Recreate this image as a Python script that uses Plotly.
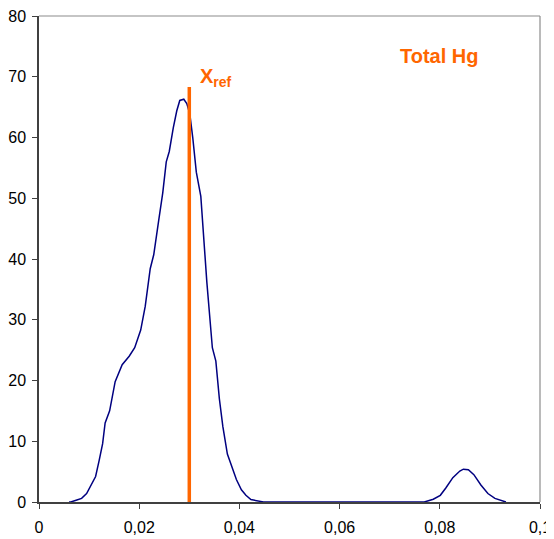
import plotly.graph_objects as go

hg_x = [0.0060, 0.00635, 0.0074, 0.0085, 0.0095, 0.0104, 0.0113, 0.0120, 0.0127, 0.0132,
        0.0141, 0.0152, 0.0166, 0.0180, 0.0191, 0.0203, 0.0212, 0.0222, 0.0229, 0.0239,
        0.0247, 0.0254, 0.0260, 0.0268, 0.0275, 0.0281, 0.0289, 0.0295, 0.0301, 0.0307,
        0.0314, 0.0323, 0.0328, 0.0335, 0.0346, 0.0353, 0.0360, 0.0367, 0.0376, 0.0385,
        0.0394, 0.0404, 0.0413, 0.0423, 0.0438, 0.0448, 0.0600, 0.0769, 0.0787, 0.0801,
        0.0812, 0.0826, 0.0840, 0.0847, 0.0857, 0.0868, 0.0882, 0.0896, 0.0910, 0.0925,
        0.0932]
hg_density = [0.0, 0.0, 0.3, 0.6, 1.4, 2.8, 4.2, 6.8, 9.6, 13.0,
              15.0, 19.8, 22.6, 24.0, 25.4, 28.3, 32.2, 38.4, 40.7, 46.4,
              50.9, 56.0, 57.7, 61.6, 64.4, 66.1, 66.3, 65.6, 63.9, 59.9,
              54.3, 50.3, 44.1, 36.2, 25.4, 23.2, 17.0, 12.4, 7.9, 5.7,
              3.7, 2.0, 1.1, 0.4, 0.1, 0.0, 0.0, 0.0, 0.45, 1.1,
              2.3, 4.0, 5.1, 5.4, 5.3, 4.5, 2.8, 1.4, 0.6, 0.1,
              0.0]

x_ref = 0.03
x_ref_line_y = [0, 68.3]

x_ticks = [0, 0.02, 0.04, 0.06, 0.08, 0.1]
y_ticks = [0, 10, 20, 30, 40, 50, 60, 70, 80]

orange = "#FF6600"
navy = "#000080"
FONT = "Liberation Sans, Arial, sans-serif"

# page body has an 8px margin; figure sized so that the plot area lands at 39..540 x 16..502
W, H = 546, 531
ML, MR, MT, MB = 31, 14, 8, 37

fig = go.Figure()
fig.add_trace(go.Scatter(x=hg_x, y=hg_density, mode="lines",
                         line=dict(color=navy, width=1.5), showlegend=False,
                         hoverinfo="skip"))
fig.add_trace(go.Scatter(x=[x_ref, x_ref], y=x_ref_line_y, mode="lines",
                         line=dict(color=orange, width=3.5), showlegend=False,
                         hoverinfo="skip"))

fig.add_shape(type="line", xref="paper", yref="paper", x0=0, x1=1, y0=1, y1=1,
              line=dict(color="#8c8c8c", width=1.2))
fig.add_shape(type="line", xref="paper", yref="paper", x0=1, x1=1, y0=0, y1=1,
              line=dict(color="#8c8c8c", width=1.2))

fig.add_annotation(x=0.0318, y=69.8, xref="x", yref="y", text="<b>X<sub>ref</sub></b>",
                   showarrow=False, xanchor="left", yanchor="middle",
                   font=dict(family=FONT, size=20, color=orange))
fig.add_annotation(x=0.0800, y=73.4, xref="x", yref="y", text="<b>Total Hg</b>",
                   showarrow=False, xanchor="center", yanchor="middle",
                   font=dict(family=FONT, size=20, color=orange))

fig.update_layout(
    width=W, height=H, autosize=False,
    margin=dict(l=ML, r=MR, t=MT, b=MB, autoexpand=False),
    paper_bgcolor="white", plot_bgcolor="white",
    separators=", ",
    font=dict(family=FONT, size=16, color="black"),
    xaxis=dict(range=[0, 0.1], tickvals=x_ticks, showgrid=False, zeroline=False,
               showline=True, linecolor="#404040", linewidth=1.5, automargin=False,
               ticks="outside", ticklen=5, tickcolor="#404040", tickwidth=1,
               ticklabelstandoff=5,
               ticklabeloverflow="allow", tickfont=dict(size=16)),
    yaxis=dict(range=[0, 80], tickvals=y_ticks, showgrid=False, zeroline=False,
               showline=True, linecolor="#404040", linewidth=1.5, automargin=False,
               ticks="outside", ticklen=5, tickcolor="#404040", tickwidth=1,
               ticklabelstandoff=3,
               ticklabeloverflow="allow", tickfont=dict(size=16)),
)

fig.write_html("out.html")
